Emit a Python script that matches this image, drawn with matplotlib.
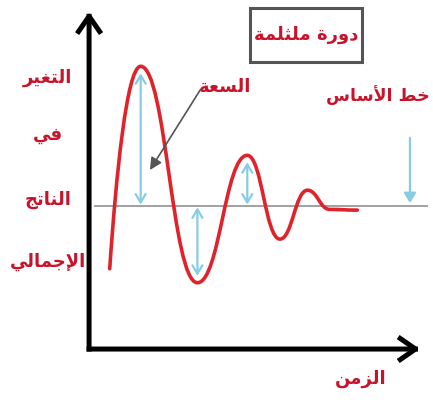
import matplotlib
matplotlib.use("Agg")
import matplotlib.pyplot as plt
from matplotlib.patches import FancyArrowPatch, Rectangle
from matplotlib.path import Path
from matplotlib.patches import PathPatch

# ---- Arabic shaping (matplotlib has no text shaping) ----
ARABIC = {
    '\u0627': (0xFE8D, False), '\u0623': (0xFE83, False), '\u0625': (0xFE87, False),
    '\u0629': (0xFE93, False), '\u062A': (0xFE95, True), '\u062B': (0xFE99, True),
    '\u062C': (0xFE9D, True), '\u062E': (0xFEA5, True), '\u062F': (0xFEA9, False),
    '\u0631': (0xFEAD, False), '\u0632': (0xFEAF, False), '\u0633': (0xFEB1, True),
    '\u0637': (0xFEC1, True), '\u0639': (0xFEC9, True), '\u063A': (0xFECD, True),
    '\u0641': (0xFED1, True), '\u0644': (0xFEDD, True), '\u0645': (0xFEE1, True),
    '\u0646': (0xFEE5, True), '\u0648': (0xFEED, False), '\u064A': (0xFEF1, True),
}
LAM_ALEF = {'\u0627': 0xFEFB, '\u0623': 0xFEF7, '\u0625': 0xFEF9}


def shape(s):
    """Join Arabic letters into contextual forms and lay the line out right-to-left."""
    tokens = []
    i = 0
    while i < len(s):
        c = s[i]
        if c == '\u0644' and i + 1 < len(s) and s[i + 1] in LAM_ALEF:
            tokens.append((LAM_ALEF[s[i + 1]], False, True))
            i += 2
            continue
        if c in ARABIC:
            b, d = ARABIC[c]
            tokens.append((b, d, True))
        else:
            tokens.append((c, False, False))
        i += 1
    out = []
    for k, (b, dual, ar) in enumerate(tokens):
        if not ar:
            out.append(b)
            continue
        prev_j = k > 0 and tokens[k - 1][2] and tokens[k - 1][1]
        next_j = dual and k + 1 < len(tokens) and tokens[k + 1][2]
        off = 3 if (prev_j and next_j) else 1 if prev_j else 2 if next_j else 0
        out.append(chr(b + off))
    return ''.join(reversed(out))


# ---- data ----
# turning points of the damped cycle: time and deviation from the baseline
cycle_t = [0.6, 1.5, 3.15, 4.6, 5.55, 6.35, 7.0, 7.8]
cycle_dev = [-1.8, 4.0, -2.2, 1.45, -0.95, 0.45, -0.1, -0.12]
# extremes marked with amplitude arrows (indices into the cycle)
amp_idx = [1, 2, 3]
baseline_value = 0.0
y_label_lines = ["التغير", "في", "الناتج", "الإجمالي"]
x_label = "الزمن"
title_text = "دورة ملثلمة"
amp_label = "السعة"
baseline_label = "خط الأساس"

RED = "#e0232b"
TXT = "#c8142a"
BLUE = "#86cde3"

fig = plt.figure(figsize=(4.33, 4.0), dpi=100)
ax = fig.add_axes([0, 0, 1, 1])
ax.set_xlim(-2.59, 10)
ax.set_ylim(-5.56, 5.90)
ax.axis("off")

# baseline
ax.plot([0.17, 9.83], [baseline_value, baseline_value], color="#9a9a9a", lw=1.3, zorder=1)

# smooth damped curve through the turning points (cubic Bezier segments)
verts = [(cycle_t[0], cycle_dev[0])]
codes = [Path.MOVETO]
for k in range(len(cycle_t) - 1):
    x0, y0 = cycle_t[k], cycle_dev[k]
    x1, y1 = cycle_t[k + 1], cycle_dev[k + 1]
    dx = x1 - x0
    if k == 0:
        c1 = (x0 + 0.2 * dx, y0 + 0.45 * (y1 - y0))
    else:
        c1 = (x0 + 0.45 * dx, y0)
    c2 = (x1 - 0.45 * dx, y1)
    verts += [c1, c2, (x1, y1)]
    codes += [Path.CURVE4] * 3
ax.add_patch(PathPatch(Path(verts, codes), fill=False, edgecolor=RED, lw=2.6,
                       capstyle="round", zorder=3))

# amplitude arrows
for i in amp_idx:
    ax.add_patch(FancyArrowPatch((cycle_t[i], baseline_value), (cycle_t[i], cycle_dev[i]),
                                 arrowstyle="<->,head_length=0.5,head_width=0.3",
                                 mutation_scale=12, color=BLUE, lw=1.6,
                                 shrinkA=1, shrinkB=5, zorder=2))
# baseline pointer
ax.add_patch(FancyArrowPatch((9.33, 1.95), (9.33, baseline_value),
                             arrowstyle="-|>,head_length=0.5,head_width=0.3",
                             mutation_scale=12, color=BLUE, lw=1.6,
                             shrinkA=0, shrinkB=2, zorder=2))

# axes with arrowheads
ax_style = "->,head_length=0.55,head_width=0.38"
ax.add_patch(FancyArrowPatch((0, -4.1), (0, 5.56), arrowstyle=ax_style, mutation_scale=20,
                             color="black", lw=3.6, shrinkA=0, shrinkB=0,
                             capstyle="projecting", zorder=4))
ax.add_patch(FancyArrowPatch((0, -4.1), (9.62, -4.1), arrowstyle=ax_style, mutation_scale=20,
                             color="black", lw=3.6, shrinkA=0, shrinkB=0,
                             capstyle="projecting", zorder=4))

# amplitude pointer
ax.add_patch(FancyArrowPatch((3.23, 3.32), (1.77, 1.03),
                             arrowstyle="-|>,head_length=0.6,head_width=0.3",
                             mutation_scale=12, color="#555555", lw=1.2,
                             shrinkA=0, shrinkB=0, zorder=5))

font = dict(family="DejaVu Sans", fontweight="bold", color=TXT, va="center")

# y axis label lines
for txt, yy in zip(y_label_lines, [3.67, 2.03, 0.17, -1.60]):
    ax.text(-1.2, yy, shape(txt), fontsize=13, ha="center", **font)

ax.text(7.91, -4.96, shape(x_label), fontsize=13, ha="center", **font)
ax.text(3.95, 3.41, shape(amp_label), fontsize=13, ha="center", **font)
ax.text(9.92, 3.18, shape(baseline_label), fontsize=12.5, ha="right", **font)

# title box
ax.add_patch(Rectangle((4.68, 4.13), 3.26, 1.54, fill=False, edgecolor="#555555",
                       lw=2.2, zorder=5))
ax.text(6.31, 4.90, shape(title_text), fontsize=13, ha="center", **font)

fig.savefig("out.png", dpi=100, facecolor="white")
